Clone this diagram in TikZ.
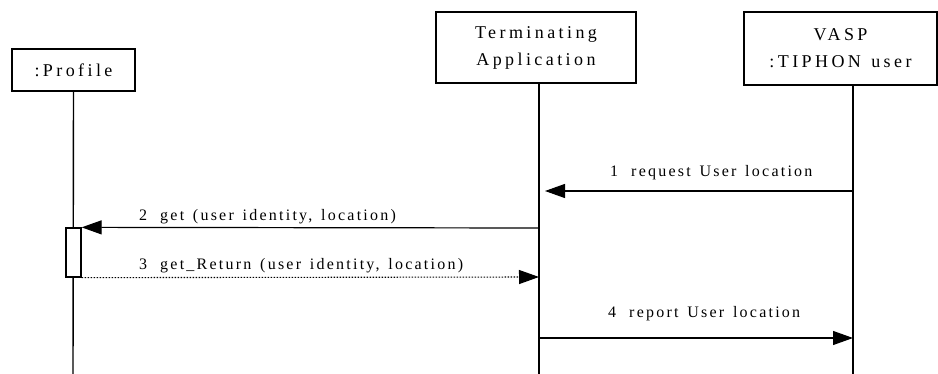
\documentclass[tikz,border=0pt]{standalone}
\usepackage{fontspec}
\usetikzlibrary{arrows.meta}
\newfontfamily\boxfont[LetterSpace=19, WordSpace=1.3]{Liberation Serif}
\newfontfamily\msgfont[LetterSpace=14, WordSpace=1.4]{Liberation Serif}
\tikzset{
  headbox/.style={draw, line width=1.4pt, align=center, inner sep=0pt,
    font=\boxfont\fontsize{18}{27}\selectfont},
  lifeline/.style={line width=1.4pt},
  msg/.style={line width=1.2pt, -{Triangle[length=20pt,width=14pt]}},
  retmsg/.style={line width=1.1pt, dash pattern=on 1.5pt off 1.5pt, -{Triangle[length=20pt,width=14pt]}},
  msglabel/.style={anchor=base west, inner sep=0pt, font=\msgfont\fontsize{16}{18}\selectfont},
  actbox/.style={draw, line width=1.3pt, fill=white}
}
\begin{document}
\begin{tikzpicture}[x=1pt,y=-1pt]
\useasboundingbox (0,0) rectangle (938,374);
% heads
\node[headbox, minimum width=123pt, minimum height=42pt] (prof) at (73.5,70) {:Profile};
\node[headbox, minimum width=200pt, minimum height=71pt] (term) at (536,47.5) {Terminating\\Application};
\node[headbox, minimum width=193pt, minimum height=73pt] (vasp) at (840.5,48.5) {VASP\\:TIPHON user};
% lifeline ends
\coordinate (profend) at (73,374);
\coordinate (termend) at (539,374);
\coordinate (vaspend) at (853,374);
\draw[lifeline] (prof.south) -- (profend);
\draw[lifeline] (term.south -| termend) -- (termend);
\draw[lifeline] (vasp.south -| vaspend) -- (vaspend);
% activation box
\node[actbox, minimum width=15pt, minimum height=49pt, inner sep=0pt] (act) at (73.5,252.5) {};
% message points
\coordinate (m1s) at (853,191);
\coordinate (m1e) at (545,191);
\coordinate (m2s) at (539,228);
\coordinate (m3e) at (539,277);
\coordinate (m4s) at (539,338);
\coordinate (m4e) at (853,338);
\draw[msg] (m1s) -- (m1e);
\draw[msg] (m2s) -- (act.north east);
\draw[retmsg] (act.south east) -- (m3e);
\draw[msg] (m4s) -- (m4e);
% labels
\node[msglabel] (l1) at (610,177) {1\hspace{13pt}request User location};
\node[msglabel] (l2) at (139,221) {2\hspace{13pt}get (user identity, location)};
\node[msglabel] (l3) at (139,270) {3\hspace{13pt}get\_Return (user identity, location)};
\node[msglabel] (l4) at (608,318) {4\hspace{13pt}report User location};
\end{tikzpicture}
\end{document}
